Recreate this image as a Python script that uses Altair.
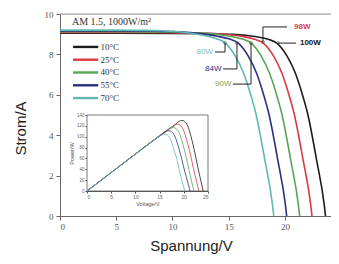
import altair as alt
import pandas as pd

# ---------------- data ----------------
TEMPS = ["10°C", "25°C", "40°C", "55°C", "70°C"]
COLORS = ["#1c1c1c", "#d93a45", "#58a558", "#2e2e80", "#62b9b1"]

# I-V curves (voltage V, current A)
V_10 = [0, 5, 10, 13, 15, 16.5, 17.5, 18.5, 19.3, 20.2, 20.9, 21.5, 22.0, 22.8, 23.5, 23.6]
I_10 = [9.05, 9.05, 9.04, 9.03, 9.0, 8.95, 8.87, 8.75, 8.55, 7.9, 7.1, 6.1, 5.1, 2.8, 0.5, 0]
V_25 = [0, 5, 10, 12, 14, 15.3, 16.3, 17.3, 18.1, 19.0, 19.7, 20.3, 20.8, 21.6, 22.3, 22.4]
I_25 = [9.09, 9.09, 9.08, 9.06, 9.02, 8.96, 8.88, 8.75, 8.55, 7.9, 7.1, 6.1, 5.1, 2.8, 0.5, 0]
V_40 = [0, 5, 9, 11, 13, 14.2, 15.2, 16.2, 17.0, 17.9, 18.6, 19.2, 19.7, 20.5, 21.2, 21.3]
I_40 = [9.12, 9.12, 9.11, 9.09, 9.04, 8.97, 8.89, 8.76, 8.56, 7.9, 7.1, 6.1, 5.1, 2.8, 0.5, 0]
V_55 = [0, 5, 8, 10, 11.5, 13.0, 14.0, 15.0, 15.85, 16.75, 17.45, 18.05, 18.55, 19.35, 20.05, 20.15]
I_55 = [9.16, 9.16, 9.15, 9.13, 9.08, 8.99, 8.9, 8.77, 8.56, 7.9, 7.1, 6.1, 5.1, 2.8, 0.5, 0]
V_70 = [0, 5, 7, 9, 10.5, 11.9, 12.9, 13.9, 14.7, 15.6, 16.3, 16.9, 17.4, 18.2, 18.9, 19.0]
I_70 = [9.2, 9.2, 9.19, 9.17, 9.12, 9.02, 8.92, 8.78, 8.56, 7.9, 7.1, 6.1, 5.1, 2.8, 0.5, 0]

# inset P-V curves (voltage V, power W)
PV_10 = [0, 5, 10, 15, 17, 18.3, 19.0, 19.6, 20.2, 20.8, 21.5, 22.3, 22.9, 23.5, 24.0]
P_10 = [0, 34, 68, 102, 115, 123, 128, 130, 128, 120, 100, 70, 44, 20, 0]
PV_25 = [0, 5, 10, 15, 16.5, 17.6, 18.2, 18.7, 19.3, 19.9, 20.6, 21.4, 22.0, 22.6, 23.1]
P_25 = [0, 34, 68, 102, 111, 117, 121, 123, 121, 113, 94, 66, 41, 19, 0]
PV_40 = [0, 5, 10, 15, 15.8, 16.7, 17.3, 17.8, 18.4, 19.0, 19.7, 20.5, 21.1, 21.6, 22.1]
P_40 = [0, 34, 68, 101, 106, 112, 116, 117, 115, 108, 90, 62, 38, 18, 0]
PV_55 = [0, 5, 10, 14, 15, 15.8, 16.4, 16.9, 17.5, 18.1, 18.8, 19.6, 20.2, 20.8, 21.3]
P_55 = [0, 34, 68, 95, 101, 106, 110, 111, 109, 102, 84, 58, 36, 17, 0]
PV_70 = [0, 5, 10, 13.5, 14.3, 15.0, 15.6, 16.0, 16.6, 17.2, 17.9, 18.7, 19.2, 19.7, 20.2]
P_70 = [0, 34, 68, 92, 97, 101, 104, 105, 103, 96, 78, 54, 34, 16, 0]

# power annotations: label, colour, leader polyline (V, I) points, label anchor
ANN_LABELS = ["80W", "84W", "90W", "98W", "100W"]
ANN_COLORS = ["#7cc4bc", "#2e2e80", "#8aa84a", "#e0404a", "#111111"]
ANN_V = [[13.78, 14.67, 14.67], [14.49, 15.73, 15.73], [15.38, 16.98, 16.98],
         [20.18, 18.04, 18.04], [20.98, 19.38]]
ANN_I = [[8.12, 8.12, 8.56], [7.28, 7.28, 8.56], [6.53, 6.53, 8.56],
         [9.36, 9.36, 8.61], [8.56, 8.56]]
ANN_TV = [13.6, 14.35, 15.25, 20.8, 21.33]
ANN_TI = [8.12, 7.28, 6.53, 9.36, 8.56]

X_TICKS = [0, 2.5, 5, 7.5, 10, 12.5, 15, 17.5, 20, 22.5]
Y_TICKS = [0, 2, 4, 6, 8, 10]
INSET_X_TICKS = [0, 5, 10, 15, 20, 25]
INSET_Y_TICKS = [0, 20, 40, 60, 80, 100, 120, 140]

# ---------------- tables ----------------
iv = [(V_10, I_10), (V_25, I_25), (V_40, I_40), (V_55, I_55), (V_70, I_70)]
pv = [(PV_10, P_10), (PV_25, P_25), (PV_40, P_40), (PV_55, P_55), (PV_70, P_70)]
rows = []
for t, (vs, cs) in zip(TEMPS, iv):
    for k, (v, c) in enumerate(zip(vs, cs)):
        rows.append({"T": t, "V": v, "I": c, "o": k})
curves = pd.DataFrame(rows)
rows = []
for t, (vs, ps) in zip(TEMPS, pv):
    for k, (v, p) in enumerate(zip(vs, ps)):
        rows.append({"T": t, "Vp": v, "P": p, "o": k})
power = pd.DataFrame(rows)

W, H = 271, 202
FONT_SERIF = "Liberation Serif"
FONT_SANS = "Liberation Sans"

color = alt.Color("T:N", scale=alt.Scale(domain=TEMPS, range=COLORS), legend=None)

X_ENC = alt.X("V:Q", scale=alt.Scale(domain=[0, 24.09], nice=False, zero=False),
              axis=alt.Axis(values=X_TICKS, labelExpr="datum.value % 5 == 0 ? datum.label : ''",
                            grid=False, tickSize=4, labelPadding=2, labelFont=FONT_SERIF,
                            labelFontSize=9, labelColor="#555", domainColor="#666",
                            tickColor="#666", title="Spannung/V", titleFont=FONT_SANS,
                            titleFontSize=15, titleFontWeight="normal", titleColor="#222",
                            titleX=131, titleY=29, titleAlign="center",
                            titleBaseline="middle"))
Y_ENC = alt.Y("I:Q", scale=alt.Scale(domain=[0, 10], nice=False),
              axis=alt.Axis(values=Y_TICKS, grid=False, tickSize=4, labelPadding=3,
                            labelFont=FONT_SERIF, labelFontSize=9, labelColor="#555",
                            domainColor="#666", tickColor="#666", title="Strom/A",
                            titleFont=FONT_SANS, titleFontSize=15, titleFontWeight="normal",
                            titleColor="#222", titleX=-40, titleY=114, titleAngle=-90,
                            titleAlign="center", titleBaseline="middle"))

lines = alt.Chart(curves).mark_line(strokeWidth=1.6, interpolate="monotone").encode(
    x=X_ENC, y=Y_ENC, color=color, order="o:Q")

top_rule = alt.Chart(pd.DataFrame({"a": [0]})).mark_rule(color="#999", strokeWidth=1).encode(
    x=alt.value(0), x2=alt.value(W), y=alt.value(0))

am_text = alt.Chart(pd.DataFrame({"a": [0]})).mark_text(
    text="AM 1.5, 1000W/m²", font=FONT_SERIF, fontSize=10, color="#333",
    align="left", baseline="middle").encode(x=alt.value(12), y=alt.value(8))

# legend (drawn in data coordinates)
leg_rows = []
leg_txt = []
for k, t in enumerate(TEMPS):
    yy = 8.37 - 0.633 * k
    leg_rows += [{"T": t, "V": 1.16, "I": yy, "o": 0}, {"T": t, "V": 3.4, "I": yy, "o": 1}]
    leg_txt.append({"T": t, "V": 3.6, "I": yy})
legend_lines = alt.Chart(pd.DataFrame(leg_rows)).mark_line(strokeWidth=2.4).encode(
    x="V:Q", y="I:Q", color=color, detail="T:N", order="o:Q")
legend_text = alt.Chart(pd.DataFrame(leg_txt)).mark_text(
    font=FONT_SERIF, fontSize=9, color="#333", align="left", baseline="middle").encode(
    x="V:Q", y="I:Q", text="T:N")

# annotations
a_rows, t_rows, p_rows = [], [], []
for k, lab in enumerate(ANN_LABELS):
    for j, (v, c) in enumerate(zip(ANN_V[k], ANN_I[k])):
        a_rows.append({"lab": lab, "V": v, "I": c, "o": j})
    p_rows.append({"lab": lab, "V": ANN_V[k][-1], "I": ANN_I[k][-1]})
    t_rows.append({"lab": lab, "V": ANN_TV[k], "I": ANN_TI[k], "al": "left" if k >= 3 else "right"})
ann_lines = alt.Chart(pd.DataFrame(a_rows)).mark_line(color="#222", strokeWidth=1).encode(
    x="V:Q", y="I:Q", detail="lab:N", order="o:Q")
ann_pts = alt.Chart(pd.DataFrame(p_rows)).mark_point(color="#444", size=8, strokeWidth=0.8).encode(
    x="V:Q", y="I:Q")
tdf = pd.DataFrame(t_rows)
ann_color = alt.Color("lab:N", scale=alt.Scale(domain=ANN_LABELS, range=ANN_COLORS), legend=None)
ann_text_r = alt.Chart(tdf[tdf.al == "right"]).mark_text(
    font=FONT_SANS, fontSize=8, align="right", baseline="middle").encode(
    x="V:Q", y="I:Q", text="lab:N", color=ann_color)
ann_text_l = alt.Chart(tdf[tdf.al == "left"]).mark_text(
    font=FONT_SANS, fontSize=8, align="left", baseline="middle", fontWeight="bold").encode(
    x="V:Q", y="I:Q", text="lab:N", color=ann_color)

main = alt.layer(top_rule, am_text, legend_lines, legend_text, lines, ann_lines, ann_pts,
                 ann_text_r, ann_text_l).resolve_scale(color="independent")

# inset
IX = alt.X("Vp:Q", scale=alt.Scale(domain=[0, 25], range=[27, 148], nice=False, zero=False),
           axis=alt.Axis(orient="bottom", offset=-25, values=INSET_X_TICKS, grid=False,
                         tickSize=2, labelPadding=1, labelFont=FONT_SANS, labelFontSize=5,
                         labelColor="#666", domainColor="#555", tickColor="#555",
                         title="Voltage/V", titleFont=FONT_SANS, titleFontSize=5.5,
                         titleFontWeight="normal", titleColor="#555", titlePadding=2))
IY = alt.Y("P:Q", scale=alt.Scale(domain=[0, 140], range=[177, 101], nice=False),
           axis=alt.Axis(orient="left", offset=-27, values=INSET_Y_TICKS, grid=False,
                         tickSize=2, labelPadding=1, labelFont=FONT_SANS, labelFontSize=4.5,
                         labelColor="#666", domainColor="#555", tickColor="#555",
                         title="Power/W", titleFont=FONT_SANS, titleFontSize=5.5,
                         titleFontWeight="normal", titleColor="#555", titlePadding=2))
frame = alt.Chart(pd.DataFrame({"Vp": [0], "Vp2": [25], "P": [0], "P2": [140]})).mark_rect(
    fill="white", stroke="#555", strokeWidth=0.8).encode(
    x=IX, x2="Vp2:Q", y=IY, y2="P2:Q")
inset_lines = alt.Chart(power).mark_line(strokeWidth=0.8, interpolate="monotone").encode(
    x=IX, y=IY, color=alt.Color("T:N", scale=alt.Scale(domain=TEMPS, range=COLORS), legend=None),
    order="o:Q")
inset = alt.layer(frame, inset_lines)

chart = alt.layer(main, inset).resolve_scale(x="independent", y="independent",
                                              color="independent").properties(
    width=W, height=H,
    autosize=alt.AutoSizeParams(type="none"),
    padding={"left": 52, "top": 6, "right": 0, "bottom": 40},
).configure_view(stroke=None).configure(background="white")

chart.save("out.html", embed_options={"renderer": "svg", "actions": False})
